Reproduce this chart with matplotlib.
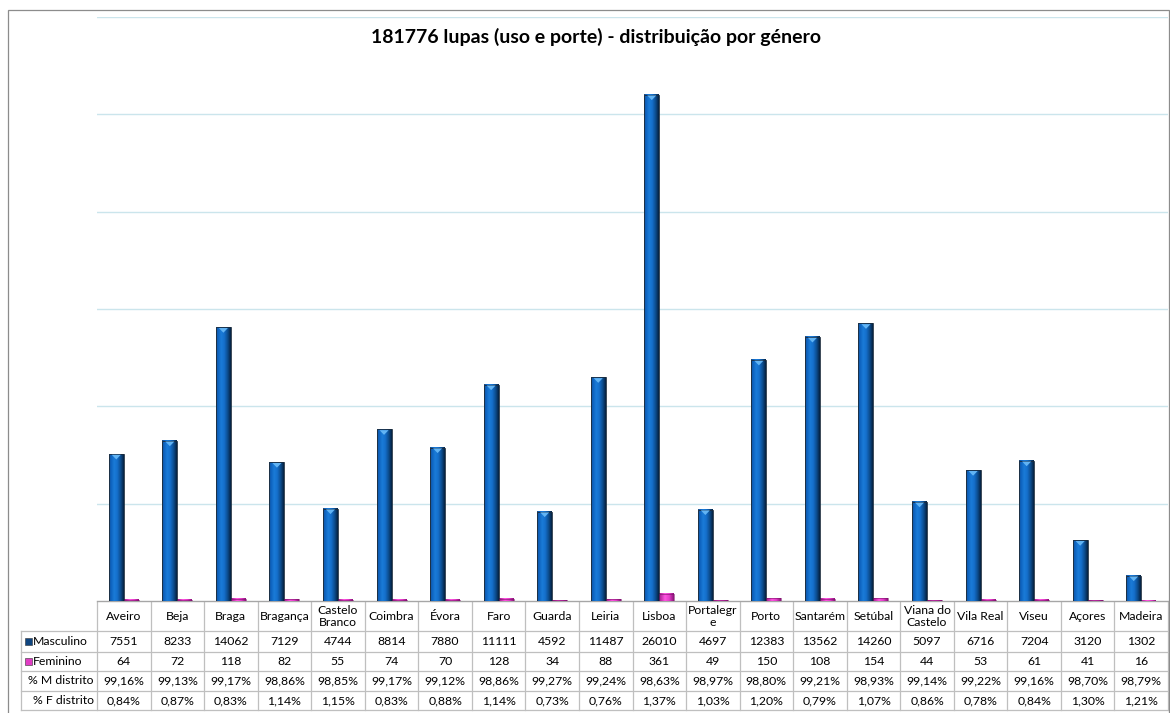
import numpy as np
import matplotlib.pyplot as plt
from matplotlib.colors import LinearSegmentedColormap
from matplotlib.patches import Rectangle, Polygon
from matplotlib.transforms import blended_transform_factory

plt.rcParams['font.family'] = ['Lato', 'DejaVu Sans']

distritos = ["Aveiro", "Beja", "Braga", "Bragança", "Castelo\nBranco", "Coimbra", "Évora",
             "Faro", "Guarda", "Leiria", "Lisboa", "Portalegr\ne", "Porto", "Santarém",
             "Setúbal", "Viana do\nCastelo", "Vila Real", "Viseu", "Açores", "Madeira"]
masculino = [7551, 8233, 14062, 7129, 4744, 8814, 7880, 11111, 4592, 11487,
             26010, 4697, 12383, 13562, 14260, 5097, 6716, 7204, 3120, 1302]
feminino = [64, 72, 118, 82, 55, 74, 70, 128, 34, 88,
            361, 49, 150, 108, 154, 44, 53, 61, 41, 16]
pct_m = ["99,16%", "99,13%", "99,17%", "98,86%", "98,85%", "99,17%", "99,12%", "98,86%",
         "99,27%", "99,24%", "98,63%", "98,97%", "98,80%", "99,21%", "98,93%", "99,14%",
         "99,22%", "99,16%", "98,70%", "98,79%"]
pct_f = ["0,84%", "0,87%", "0,83%", "1,14%", "1,15%", "0,83%", "0,88%", "1,14%",
         "0,73%", "0,76%", "1,37%", "1,03%", "1,20%", "0,79%", "1,07%", "0,86%",
         "0,78%", "0,84%", "1,30%", "1,21%"]
row_labels = ["Masculino", "Feminino", "% M distrito", "% F distrito"]
title = "181776 lupas (uso e porte) - distribuição por género"

W, H = 1170, 713
fig = plt.figure(figsize=(W / 100, H / 100), dpi=100)

def fx(px):
    return px / W

def fy(py):
    return 1 - py / H

# chart frame
fig.patches.append(Rectangle((fx(8), fy(725)), fx(1161), fy(10) - fy(725),
                             transform=fig.transFigure, fill=False,
                             edgecolor="#8c8c8c", linewidth=0.9))

ax = fig.add_axes([fx(97), fy(601), fx(1168) - fx(97), fy(17) - fy(601)])
n = len(distritos)
x = np.arange(n)
w = 0.28

blue_cm = LinearSegmentedColormap.from_list(
    "blue", [(0, "#3a4a5c"), (0.08, "#0b5db8"), (0.35, "#1a7bd8"),
             (0.55, "#1570cc"), (0.8, "#0c4a8a"), (1, "#05213f")])
pink_cm = LinearSegmentedColormap.from_list(
    "pink", [(0, "#a01b8c"), (0.4, "#ff55e0"), (0.7, "#e23cc8"), (1, "#8a1478")])
grad = np.linspace(0, 1, 64).reshape(1, -1)

bm = ax.bar(x - w / 2, masculino, width=w, facecolor="none",
            edgecolor="#1b2b3c", linewidth=0.6, zorder=4)
bf = ax.bar(x + w / 2, feminino, width=w, facecolor="none",
            edgecolor="#7a1068", linewidth=0.4, zorder=4)

for bars, cm in ((bm, blue_cm), (bf, pink_cm)):
    for r in bars:
        x0, h, bw = r.get_x(), r.get_height(), r.get_width()
        ax.imshow(grad, extent=[x0, x0 + bw, 0, h], aspect="auto", cmap=cm,
                  zorder=3, interpolation="bilinear")

# small bevel triangle on top of the blue bars
for r in bm:
    x0, h, bw = r.get_x(), r.get_height(), r.get_width()
    tri = Polygon([(x0 + 0.2 * bw, h - 40), (x0 + 0.8 * bw, h - 40),
                   (x0 + 0.5 * bw, h - 280)], closed=True,
                  facecolor="#62b4f4", edgecolor="none", zorder=5)
    ax.add_patch(tri)

ax.set_xlim(-0.5, n - 0.5)
ax.set_ylim(0, 30000)
ax.set_yticks(np.arange(5000, 30001, 5000))
ax.yaxis.grid(True, color="#cbe5ec", linewidth=1)
ax.set_axisbelow(True)
ax.tick_params(left=False, bottom=False, labelleft=False, labelbottom=False)
for s in ("top", "right", "left"):
    ax.spines[s].set_visible(False)
ax.spines["bottom"].set_color("#a6a6a6")
ax.spines["bottom"].set_linewidth(1)

fig.text(fx(596), fy(37), title, ha="center", va="center",
         fontsize=14, fontweight="bold", color="#000000")

# data table below the chart
tr = blended_transform_factory(ax.transData, fig.transFigure)
line_c = "#bfbfbf"
row_edges = [602, 631, 652, 671, 691, 710]
left_x = -0.5 - (97 - 21) / (1071 / n)
tsize = 8.8

for i in range(n + 1):
    ax.plot([i - 0.5, i - 0.5], [fy(row_edges[0]), fy(row_edges[-1])], color=line_c,
            lw=0.9, transform=tr, clip_on=False)
ax.plot([left_x, left_x], [fy(row_edges[1]), fy(row_edges[-1])], color=line_c,
        lw=0.9, transform=tr, clip_on=False)
for yy in row_edges[1:]:
    ax.plot([left_x, n - 0.5], [fy(yy), fy(yy)], color=line_c, lw=0.9,
            transform=tr, clip_on=False)

def row_mid(k):
    return fy((row_edges[k] + row_edges[k + 1]) / 2)

rows = [[str(v) for v in masculino], [str(v) for v in feminino], pct_m, pct_f]
for i, name in enumerate(distritos):
    ax.text(i, row_mid(0), name, transform=tr, ha="center", va="center",
            fontsize=tsize, linespacing=1.1, clip_on=False)
    for k, vals in enumerate(rows):
        ax.text(i, row_mid(k + 1), vals[i], transform=tr, ha="center",
                va="center", fontsize=tsize, clip_on=False)

key_colors = ["#0f4580", "#e03cc4"]
for k, lab in enumerate(row_labels):
    ym = row_mid(k + 1)
    if k < 2:
        fig.patches.append(Rectangle((fx(25), ym - 3.5 / H), fx(7), 7 / H,
                                     transform=fig.transFigure,
                                     facecolor=key_colors[k], edgecolor="#333333",
                                     linewidth=0.4))
        fig.text(fx(33), ym, lab, ha="left", va="center", fontsize=tsize)
    else:
        fig.text(fx(94), ym, lab, ha="right", va="center", fontsize=tsize)

fig.savefig("out.png", dpi=100)
